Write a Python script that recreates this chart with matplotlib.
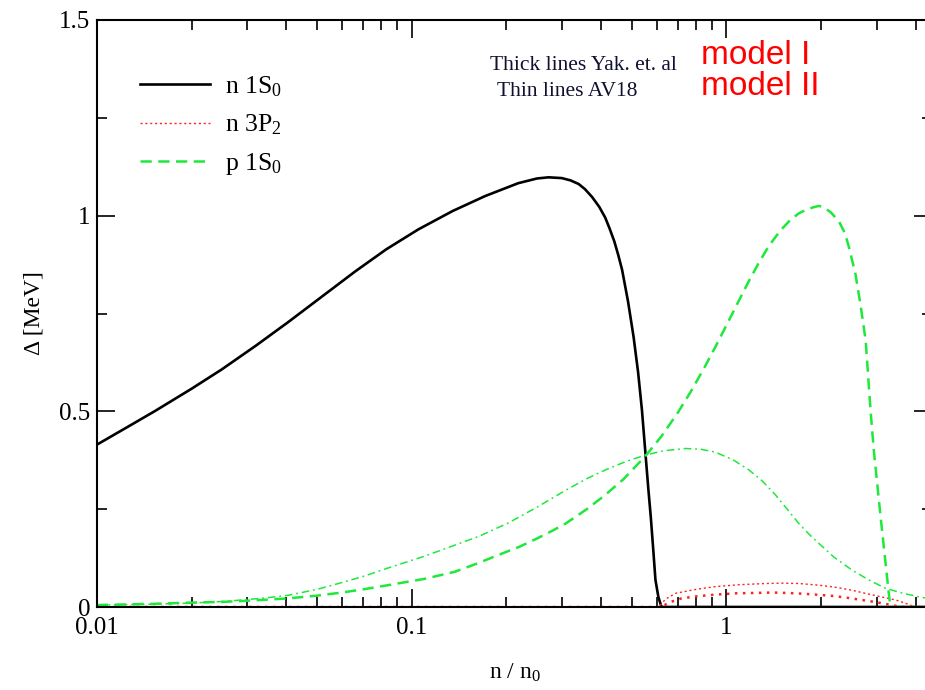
import matplotlib
matplotlib.use("Agg")
import matplotlib.pyplot as plt
from matplotlib.ticker import MultipleLocator, FixedLocator, LogLocator, NullFormatter, FuncFormatter

plt.rcParams['font.family'] = ['Liberation Serif', 'DejaVu Serif']
plt.rcParams['mathtext.fontset'] = 'custom'
plt.rcParams['mathtext.rm'] = 'Liberation Serif'
plt.rcParams['mathtext.it'] = 'Liberation Serif:italic'

# ---- data ----
# neutron 1S0, model I (thick solid black)
n1s0_x = [0.01, 0.0125, 0.0153, 0.02, 0.0249, 0.032, 0.0405, 0.052, 0.066, 0.083, 0.105,
          0.135, 0.171, 0.218, 0.25, 0.272, 0.30, 0.32, 0.339, 0.355, 0.374, 0.394, 0.412,
          0.425, 0.44, 0.453, 0.466, 0.487, 0.507, 0.524, 0.539, 0.553, 0.565, 0.575, 0.585,
          0.595, 0.608, 0.622, 4.5]
n1s0_y = [0.415, 0.46, 0.501, 0.558, 0.607, 0.668, 0.728, 0.794, 0.857, 0.914, 0.965,
          1.012, 1.05, 1.083, 1.095, 1.098, 1.096, 1.09, 1.081, 1.068, 1.048, 1.023, 0.995,
          0.968, 0.935, 0.9, 0.862, 0.78, 0.690, 0.60, 0.503, 0.392, 0.30, 0.23, 0.15,
          0.069, 0.025, 0.0, 0.0]

# proton 1S0, model I (thick dashed green)
p1s0_I_x = [0.01, 0.015, 0.0196, 0.025, 0.03, 0.035, 0.0405, 0.05, 0.06, 0.07, 0.0844,
            0.11, 0.137, 0.16, 0.19, 0.22, 0.25, 0.28, 0.308, 0.36, 0.41, 0.47, 0.552,
            0.62, 0.70, 0.77, 0.85, 0.92, 0.99, 1.08, 1.17, 1.26, 1.36, 1.48, 1.6, 1.7,
            1.8, 1.9, 1.97, 2.05, 2.15, 2.28, 2.38, 2.45, 2.57, 2.67, 2.77, 2.87, 2.94,
            3.09, 3.28, 3.32, 4.5]
p1s0_I_y = [0.005, 0.008, 0.011, 0.013, 0.016, 0.019, 0.022, 0.029, 0.037, 0.045, 0.056,
            0.072, 0.09, 0.11, 0.134, 0.154, 0.175, 0.195, 0.213, 0.25, 0.285, 0.326, 0.385,
            0.435, 0.496, 0.55, 0.611, 0.663, 0.713, 0.773, 0.828, 0.876, 0.921, 0.961, 0.99,
            1.006, 1.016, 1.022, 1.025, 1.02, 1.008, 0.985, 0.955, 0.92, 0.851, 0.77, 0.681,
            0.503, 0.40, 0.23, 0.035, 0.0, 0.0]

# proton 1S0, AV18 (thin dash-dot green)
p1s0_av_x = [0.01, 0.015, 0.02, 0.025, 0.03, 0.035, 0.0405, 0.05, 0.0585, 0.07, 0.0844,
             0.11, 0.137, 0.165, 0.203, 0.25, 0.308, 0.36, 0.42, 0.48, 0.552, 0.63, 0.741,
             0.83, 0.92, 1.05, 1.18, 1.3, 1.43, 1.56, 1.70, 1.83, 1.97, 2.2, 2.51, 2.85,
             3.2, 3.6, 4.09, 4.5]
p1s0_av_y = [0.005, 0.007, 0.01, 0.014, 0.019, 0.024, 0.03, 0.045, 0.06, 0.078, 0.1,
             0.13, 0.158, 0.182, 0.215, 0.255, 0.298, 0.328, 0.353, 0.372, 0.388, 0.399, 0.405,
             0.403, 0.396, 0.376, 0.35, 0.322, 0.287, 0.25, 0.213, 0.186, 0.162, 0.127, 0.094,
             0.068, 0.048, 0.036, 0.026, 0.02]

# neutron 3P2, model I (thick dotted red)
n3p2_I_x = [0.01, 0.62, 0.66, 0.72, 0.8, 0.9, 1.07, 1.25, 1.4, 1.66, 1.9, 2.2, 2.45, 2.69,
            2.95, 3.2, 3.4, 3.6, 4.5]
n3p2_I_y = [0.0, 0.0, 0.012, 0.022, 0.027, 0.031, 0.035, 0.036, 0.037, 0.035, 0.032, 0.028,
            0.023, 0.018, 0.013, 0.008, 0.004, 0.0, 0.0]

# neutron 3P2, AV18 (thin dotted red)
n3p2_av_x = [0.01, 0.61, 0.64, 0.689, 0.8, 0.92, 1.1, 1.33, 1.5, 1.7, 1.95, 2.2, 2.5, 2.76,
             3.1, 3.45, 3.75, 3.98, 4.5]
n3p2_av_y = [0.0, 0.0, 0.02, 0.035, 0.045, 0.052, 0.057, 0.06, 0.061, 0.06, 0.056, 0.051,
             0.043, 0.035, 0.026, 0.018, 0.008, 0.0, 0.0]

legend_labels = [r"n 1S$\mathregular{_0}$", r"n 3P$\mathregular{_2}$", r"p 1S$\mathregular{_0}$"]
x_ticks = [0.01, 0.1, 1]
y_ticks = [0, 0.5, 1, 1.5]

GREEN = '#1ee83c'
RED = '#ff2020'

fig = plt.figure(figsize=(9.25, 6.9), dpi=100)
ax = fig.add_axes([97/925, 83/690, (932-97)/925, (607-20)/690])

l_black, = ax.plot(n1s0_x, n1s0_y, color='black', lw=1.9, solid_joinstyle='round')
l_red_thick, = ax.plot(n3p2_I_x, n3p2_I_y, color=RED, lw=1.8, linestyle=(0, (1, 2.2)))
l_red_thin, = ax.plot(n3p2_av_x, n3p2_av_y, color=RED, lw=1.0, linestyle=(0, (1.5, 2.0)))
l_green, = ax.plot(p1s0_I_x, p1s0_I_y, color=GREEN, lw=1.8, linestyle=(0, (4.5, 2.6)))
l_green_av, = ax.plot(p1s0_av_x, p1s0_av_y, color=GREEN, lw=1.1, linestyle=(0, (5, 2.5, 1.2, 2.5)))

ax.set_xscale('log')
ax.set_xlim(0.01, 4.5)
ax.set_ylim(0, 1.5)

ax.xaxis.set_major_locator(FixedLocator(x_ticks))
ax.xaxis.set_minor_locator(LogLocator(base=10, subs=range(2, 10)))
ax.xaxis.set_minor_formatter(NullFormatter())
ax.xaxis.set_major_formatter(FuncFormatter(lambda v, p: '%g' % v))
ax.yaxis.set_major_locator(FixedLocator(y_ticks))
ax.yaxis.set_minor_locator(MultipleLocator(0.25))
ax.yaxis.set_major_formatter(FuncFormatter(lambda v, p: '%g' % v))

ax.tick_params(which='both', direction='in', top=True, right=True, width=1.2, labelsize=18)
ax.tick_params(which='major', length=13)
ax.tick_params(which='minor', length=7)
ax.tick_params(axis='x', pad=7)
ax.tick_params(axis='y', pad=5)
for s in ax.spines.values():
    s.set_linewidth(1.5)

ax.set_xlabel(r"n / n$\mathregular{_0}$", fontsize=17)
ax.set_ylabel(r"Δ [MeV]", fontsize=17)
ax.xaxis.set_label_coords(0.5, -0.093)
ax.yaxis.set_label_coords(-0.063, 0.5)

leg = ax.legend([l_black, l_red_thin, l_green], legend_labels, loc='upper left',
                bbox_to_anchor=(0.052, 0.908), frameon=False, fontsize=18.5,
                handlelength=2.72, handletextpad=0.58, labelspacing=0.55, borderpad=0,
                borderaxespad=0)

fig.text(490/925, 1-70/690, "Thick lines Yak. et. al", fontsize=15.5, color='#101030', va='baseline')
fig.text(496.7/925, 1-95.7/690, "Thin lines AV18", fontsize=15.5, color='#101030', va='baseline')
fig.text(701/925, 1-64/690, "model I", fontsize=24, color='red', va='baseline', family='Liberation Sans')
fig.text(701/925, 1-95/690, "model II", fontsize=24, color='red', va='baseline', family='Liberation Sans')

fig.savefig('out.png', dpi=100)
